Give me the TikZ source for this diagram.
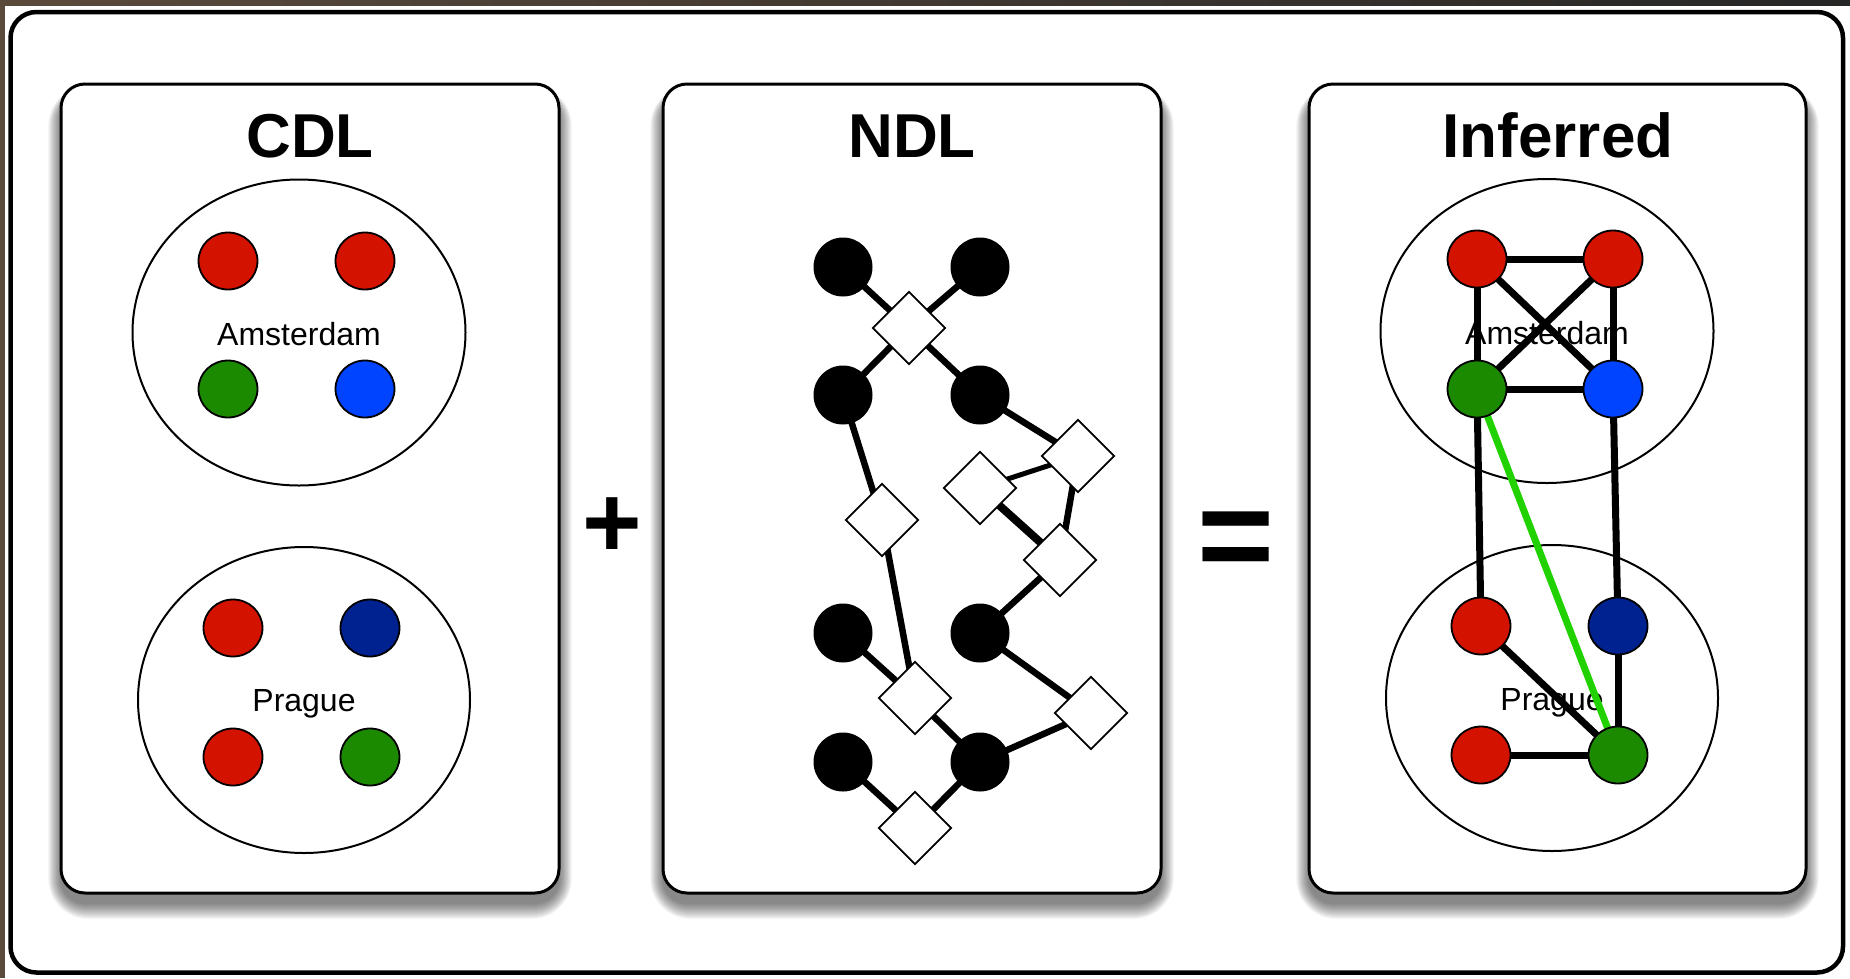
\documentclass[tikz,border=0pt]{standalone}
\usepackage{fontspec}
\setmainfont{Liberation Sans}
\usetikzlibrary{shapes.geometric}
\pgfdeclarelayer{back}
\pgfdeclarelayer{mid}
\pgfsetlayers{back,mid,main}
\definecolor{bgbrown}{RGB}{90,74,60}
\definecolor{cred}{RGB}{212,18,0}
\definecolor{cgreen}{RGB}{28,138,0}
\definecolor{cblue}{RGB}{0,68,255}
\definecolor{cnavy}{RGB}{0,34,145}
\definecolor{lgreen}{RGB}{34,210,0}
\begin{document}
\begin{tikzpicture}[x=1pt,y=-1pt,
  dot/.style={ellipse, draw=black, line width=1.8pt, minimum width=59pt, minimum height=57pt, inner sep=0pt},
  bdot/.style={circle, fill=black, minimum size=59pt, inner sep=0pt},
  dia/.style={diamond, draw=black, fill=white, line width=1.8pt, minimum width=73pt, minimum height=73pt, inner sep=0pt, aspect=1},
  link/.style={line width=6.5pt},
  ilink/.style={line width=7pt},
  panel/.style={draw=black, line width=3pt, fill=white, rounded corners=24pt},
  city/.style={ellipse, draw=black, line width=2pt, inner sep=0pt},
  ctext/.style={font=\fontsize{32}{32}\selectfont, anchor=base, inner sep=0pt},
  title/.style={font=\fontsize{62}{62}\selectfont\bfseries, anchor=base, inner sep=0pt},
  sign/.style={inner sep=0pt, anchor=center}
]
\useasboundingbox (0,0) rectangle (1850,978);

\begin{pgfonlayer}{back}
% background and outer frame
\fill[bgbrown] (0,0) rectangle (1850,978);
\fill[white] (5,5) rectangle (1850,978);
\shade[left color=bgbrown, right color=black!85] (0,0) rectangle (1850,5);
\draw[line width=4.5pt, rounded corners=26pt, fill=white] (10.5,12) rectangle (1843,972.5);

% panel shadows
\foreach \xa/\xb in {61/559, 663/1161, 1309/1806}{
  \foreach \i in {1,...,16}{
    \pgfmathsetmacro\rr{24+\i}
    \fill[black, opacity=0.035, rounded corners=\rr pt] (\xa-0.8*\i, 94-0.5*\i) rectangle (\xb+0.8*\i, 903+\i);
  }
}
% panels
\node[panel, minimum width=498pt, minimum height=809pt, inner sep=0pt] (pcdl) at (310,488.5) {};
\node[panel, minimum width=498pt, minimum height=809pt, inner sep=0pt] (pndl) at (912,488.5) {};
\node[panel, minimum width=497pt, minimum height=809pt, inner sep=0pt] (pinf) at (1557.5,488.5) {};

% city ellipses
\node[city, minimum width=333pt, minimum height=306pt] (cams) at (299,332.5) {};
\node[city, minimum width=332pt, minimum height=306pt] (cpra) at (304,700) {};
\node[city, minimum width=333pt, minimum height=304pt] (iams) at (1547,331) {};
\node[city, minimum width=332pt, minimum height=306pt] (ipra) at (1552,698) {};

\node[ctext] (tams1) at (299,345) {Amsterdam};
\node[ctext] (tpra1) at (304,711) {Prague};
\node[ctext] (tams2) at (1547,344) {Amsterdam};
\node[ctext] (tpra2) at (1552,710) {Prague};
\end{pgfonlayer}

% titles and signs
\node[title] (tcdl) at (310,157) {CDL};
\node[title] (tndl) at (912,157) {NDL};
\node[title] (tinf) at (1558,157) {Inferred};
\node[sign, font=\fontsize{102}{102}\selectfont\bfseries] (plus) at (612,528) {+};
\node[sign, font=\fontsize{132}{132}\selectfont\bfseries] (eq) at (1236.5,546) {=};

% CDL dots
\node[dot, fill=cred] (c1) at (228,261) {};
\node[dot, fill=cred] (c2) at (365,261) {};
\node[dot, fill=cgreen] (c3) at (228,389) {};
\node[dot, fill=cblue] (c4) at (365,389) {};
\node[dot, fill=cred] (c5) at (233,628) {};
\node[dot, fill=cnavy] (c6) at (370,628) {};
\node[dot, fill=cred] (c7) at (233,757) {};
\node[dot, fill=cgreen] (c8) at (370,757) {};

% NDL graph
\node[bdot] (n1) at (843,267) {};
\node[bdot] (n2) at (980,267) {};
\node[bdot] (n3) at (843,395) {};
\node[bdot] (n4) at (980,395) {};
\node[bdot] (n5) at (843,633) {};
\node[bdot] (n6) at (980,633) {};
\node[bdot] (n7) at (843,762) {};
\node[bdot] (n8) at (980,762) {};
\node[dia] (d1) at (909,328) {};
\node[dia] (d2) at (882,520) {};
\node[dia] (d3) at (1078,456) {};
\node[dia] (d4) at (980,488) {};
\node[dia] (d5) at (1060,560) {};
\node[dia] (d6) at (915,698) {};
\node[dia] (d7) at (1091,713) {};
\node[dia] (d8) at (915,828) {};

% Inferred graph
\node[dot, fill=cred] (i1) at (1477,259) {};
\node[dot, fill=cred] (i2) at (1613,259) {};
\node[dot, fill=cgreen] (i3) at (1477,389) {};
\node[dot, fill=cblue] (i4) at (1613,389) {};
\node[dot, fill=cred] (i5) at (1481,626) {};
\node[dot, fill=cnavy] (i6) at (1618,626) {};
\node[dot, fill=cred] (i7) at (1481,755) {};
\node[dot, fill=cgreen] (i8) at (1618,755) {};

\begin{pgfonlayer}{mid}
\draw[link] (n1.center) -- (d1.center);
\draw[link] (n2.center) -- (d1.center);
\draw[link] (n3.center) -- (d1.center);
\draw[link] (n4.center) -- (d1.center);
\draw[link] (n4.center) -- (d3.center);
\draw[line width=5pt] (d3.center) -- (d4.center);
\draw[link] (d3.center) -- (d5.center);
\draw[line width=8pt] (d4.center) -- (d5.center);
\draw[link] (n3.center) -- (d2.center);
\draw[link] (d2.center) -- (d6.center);
\draw[link] (n5.center) -- (d6.center);
\draw[link] (d6.center) -- (n8.center);
\draw[link] (n6.center) -- (d5.center);
\draw[link] (n6.center) -- (d7.center);
\draw[link] (d7.center) -- (n8.center);
\draw[link] (n7.center) -- (d8.center);
\draw[link] (n8.center) -- (d8.center);

\draw[ilink] (i1.center) -- (i2.center);
\draw[ilink] (i1.center) -- (i3.center);
\draw[ilink] (i2.center) -- (i4.center);
\draw[ilink] (i3.center) -- (i4.center);
\draw[ilink] (i1.center) -- (i4.center);
\draw[ilink] (i2.center) -- (i3.center);
\draw[ilink] (i3.center) -- (i5.center);
\draw[ilink] (i4.center) -- (i6.center);
\draw[ilink] (i5.center) -- (i8.center);
\draw[ilink] (i6.center) -- (i8.center);
\draw[ilink] (i7.center) -- (i8.center);
\draw[ilink, draw=lgreen] (i3.center) -- (i8.center);
\end{pgfonlayer}
\end{tikzpicture}
\end{document}
